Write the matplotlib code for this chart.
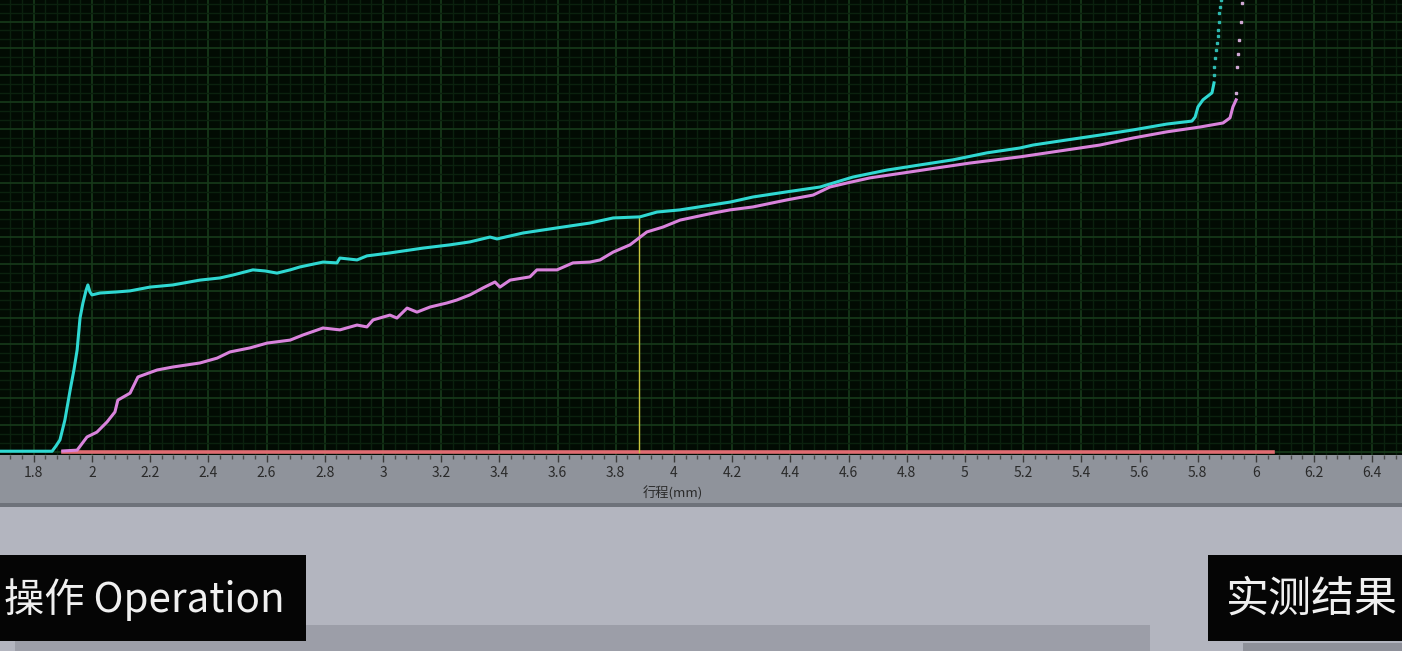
import matplotlib
matplotlib.use("Agg")
import matplotlib.pyplot as plt
from matplotlib.patches import Rectangle
from matplotlib.ticker import MultipleLocator, FuncFormatter

plt.rcParams['font.family'] = ['Noto Sans CJK SC', 'DejaVu Sans']

# ---- data (x: travel in mm, y: arbitrary units, 1 unit = 1 major grid) ----
cyan_x = [1.684, 1.863, 1.876, 1.890, 1.907, 1.925, 1.938, 1.949, 1.959, 1.969, 1.980, 1.986,
          1.993, 2.000, 2.028, 2.086, 2.131, 2.199, 2.278, 2.371, 2.440, 2.485, 2.553, 2.595,
          2.636, 2.681, 2.715, 2.794, 2.842, 2.852, 2.911, 2.945, 3.024, 3.138, 3.230, 3.299,
          3.368, 3.392, 3.481, 3.598, 3.711, 3.791, 3.883, 3.942, 4.021, 4.193, 4.272, 4.388,
          4.502, 4.560, 4.615, 4.732, 4.845, 4.959, 5.076, 5.189, 5.234, 5.351, 5.464, 5.577,
          5.694, 5.780, 5.791, 5.801, 5.818, 5.849, 5.856]
cyan_y = [0.03, 0.03, 0.22, 0.45, 1.19, 2.30, 3.05, 3.79, 4.98, 5.54, 6.02, 6.21,
          5.95, 5.84, 5.91, 5.95, 5.99, 6.13, 6.21, 6.39, 6.47, 6.58, 6.77, 6.73,
          6.65, 6.77, 6.88, 7.06, 7.03, 7.21, 7.14, 7.29, 7.40, 7.58, 7.70, 7.81,
          7.99, 7.92, 8.14, 8.33, 8.51, 8.70, 8.74, 8.92, 9.00, 9.29, 9.48, 9.67,
          9.85, 10.04, 10.22, 10.48, 10.67, 10.86, 11.12, 11.30, 11.41, 11.60, 11.78, 11.97,
          12.19, 12.30, 12.45, 12.83, 13.09, 13.35, 13.72]
cyan_tail_x = [5.856, 5.857, 5.859, 5.862, 5.866, 5.868, 5.870, 5.872, 5.873, 5.876, 5.880, 5.887]
cyan_tail_y = [14.00, 14.31, 14.65, 14.95, 15.20, 15.45, 15.69, 16.00, 16.32, 16.55, 16.80, 17.60]

mag_x = [1.900, 1.949, 1.983, 2.017, 2.052, 2.079, 2.089, 2.131, 2.158, 2.224, 2.278, 2.371,
         2.430, 2.474, 2.543, 2.602, 2.681, 2.725, 2.794, 2.852, 2.911, 2.945, 2.966, 3.024,
         3.048, 3.083, 3.117, 3.162, 3.220, 3.254, 3.299, 3.344, 3.385, 3.402, 3.437, 3.505,
         3.529, 3.598, 3.653, 3.711, 3.746, 3.791, 3.849, 3.907, 3.962, 4.021, 4.134, 4.193,
         4.272, 4.388, 4.478, 4.536, 4.595, 4.674, 4.787, 4.904, 5.017, 5.189, 5.351, 5.464,
         5.577, 5.694, 5.808, 5.887, 5.911, 5.921, 5.932]
mag_y = [0.04, 0.07, 0.56, 0.74, 1.12, 1.49, 1.93, 2.19, 2.79, 3.05, 3.16, 3.31,
         3.49, 3.72, 3.87, 4.05, 4.16, 4.35, 4.61, 4.54, 4.72, 4.65, 4.91, 5.09,
         4.98, 5.35, 5.20, 5.39, 5.54, 5.65, 5.84, 6.10, 6.32, 6.13, 6.39, 6.51,
         6.77, 6.77, 7.03, 7.06, 7.14, 7.43, 7.70, 8.18, 8.36, 8.62, 8.88, 9.00,
         9.11, 9.37, 9.55, 9.85, 10.00, 10.19, 10.37, 10.56, 10.74, 10.97, 11.23, 11.41,
         11.67, 11.90, 12.08, 12.23, 12.42, 12.83, 13.09]
mag_tail_x = [5.932, 5.935, 5.938, 5.942, 5.949, 5.952]
mag_tail_y = [13.35, 14.31, 14.80, 15.32, 15.99, 16.69]

cursor_x = 3.880
cursor_y = 8.74
baseline_x = [1.900, 6.060]
baseline_y = [0.0, 0.0]

x_range = (1.684, 6.502)
y_range = (-0.11, 16.80)
xlabel = "行程(mm)"
box_left = "操作 Operation"
box_right = "实测结果"

# ---- figure ----
W, H = 1402, 651
fig = plt.figure(figsize=(W / 100, H / 100), dpi=100, facecolor='#b3b5bf')

def px_rect(x0, y0, x1, y1, color, z=0):
    fig.patches.append(Rectangle((x0 / W, 1 - y1 / H), (x1 - x0) / W, (y1 - y0) / H,
                                 transform=fig.transFigure, facecolor=color,
                                 edgecolor='none', zorder=z))

# gray axis band and panels
px_rect(0, 455, W, 503, '#8f939b', z=-5)
px_rect(0, 503, W, 507, '#6e727a', z=-5)
px_rect(15, 625, 1150, H, '#9c9ea8', z=-5)
px_rect(1243, 643, W, H, '#8e9099', z=-5)
px_rect(0, 555, 306, 641, '#050505', z=2)
px_rect(1208, 555, W, 641, '#050505', z=2)

ax = fig.add_axes([0, 1 - 455 / H, 1, 455 / H])
ax.set_zorder(1)
ax.set_facecolor('#020b03')
ax.set_xlim(*x_range)
ax.set_ylim(*y_range)
for s in ax.spines.values():
    s.set_visible(False)

ax.xaxis.set_major_locator(MultipleLocator(0.2))
ax.xaxis.set_minor_locator(MultipleLocator(0.04))
ax.yaxis.set_major_locator(MultipleLocator(1.0))
ax.yaxis.set_minor_locator(MultipleLocator(1 / 3))
ax.grid(which='major', color='#173a1a', linewidth=1.2)
ax.grid(which='minor', color='#0b210e', linewidth=1.0)
ax.set_axisbelow(True)

ax.xaxis.set_major_formatter(FuncFormatter(lambda v, p: f"{v:g}"))
ax.tick_params(axis='x', which='major', direction='out', length=5, width=1,
               color='#3a3a3a', labelcolor='#2a2a2a', labelsize=10, pad=3)
ax.tick_params(axis='x', which='minor', direction='out', length=3, width=1, color='#4a4a4a')
ax.tick_params(axis='y', which='both', left=False, labelleft=False)

ax.plot(baseline_x, baseline_y, color='#e06c72', linewidth=2.6, zorder=3, clip_on=False)
ax.plot([cursor_x, cursor_x], [0, cursor_y], color='#c8c43c', linewidth=1.0, zorder=3)
ax.plot(cyan_x, cyan_y, color='#2fd8d2', linewidth=2.2, zorder=4)
ax.plot(cyan_tail_x, cyan_tail_y, linestyle='none', marker='s', markersize=2,
        color='#2fb8b0', zorder=4)
ax.plot(mag_x, mag_y, color='#d983dc', linewidth=2.2, zorder=4)
ax.plot(mag_tail_x, mag_tail_y, linestyle='none', marker='s', markersize=2,
        color='#d0a8d4', zorder=4)

fig.text(673 / W, 1 - 493 / H, xlabel, ha='center', va='center', fontsize=9.5, color='#2a2a2a')
fig.text(4 / W, 1 - 600 / H, box_left, ha='left', va='center', fontsize=29,
         color='#f0f0f0', zorder=3)
fig.text(1226 / W, 1 - 600 / H, box_right, ha='left', va='center', fontsize=31,
         color='#f0f0f0', zorder=3)

fig.savefig('out.png', dpi=100, facecolor=fig.get_facecolor())
